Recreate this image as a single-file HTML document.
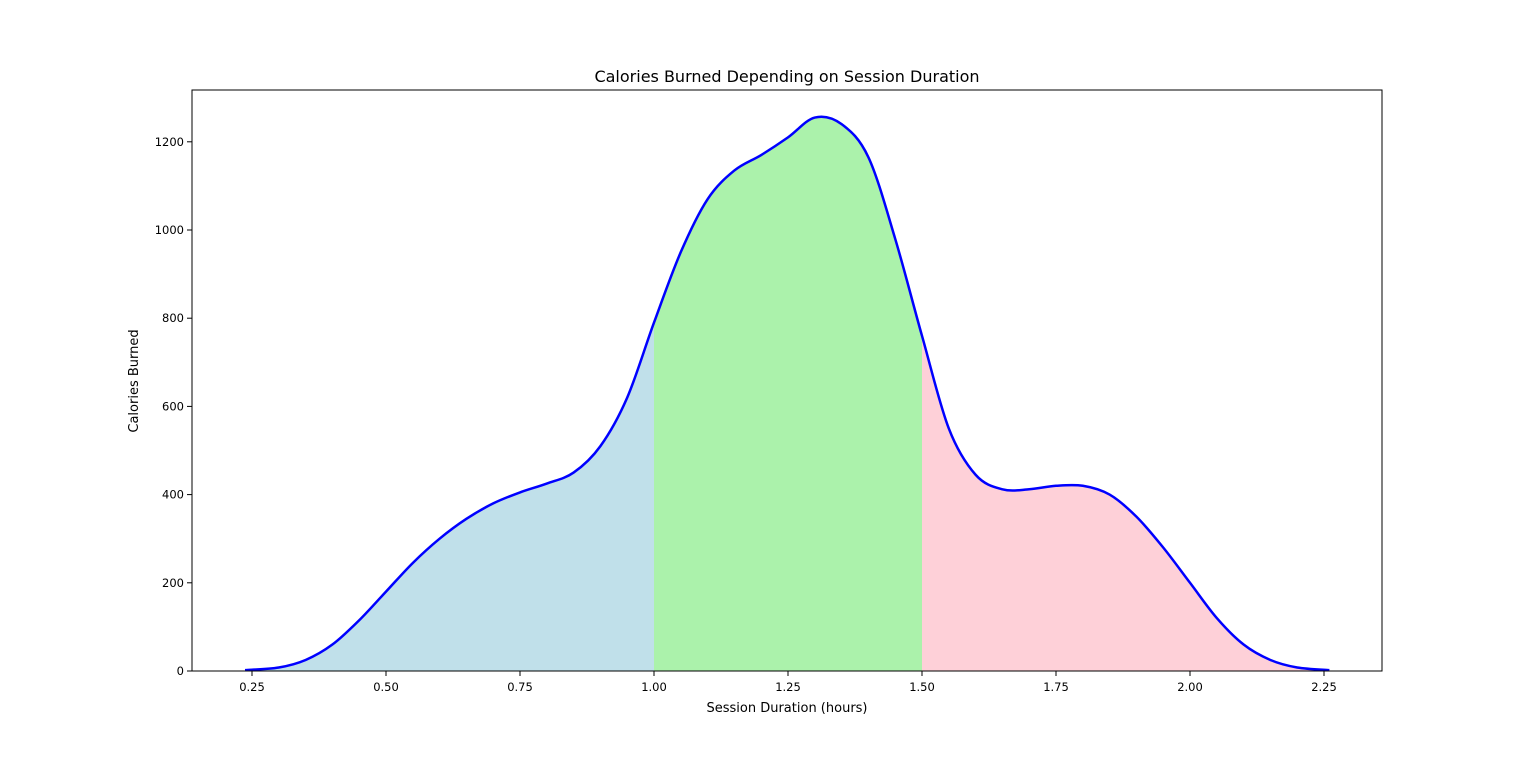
<!DOCTYPE html>
<html><head><meta charset="utf-8"><style>
body{margin:0;background:#fff;}
svg text{font-family:"DejaVu Sans","Liberation Sans",sans-serif;fill:#000;}
</style></head><body>
<svg id="chart" width="1536" height="754" xmlns="http://www.w3.org/2000/svg">
<defs>
<clipPath id="c1"><rect id="r1" y="80" height="600"/></clipPath>
<clipPath id="c2"><rect id="r2" y="80" height="600"/></clipPath>
<clipPath id="c3"><rect id="r3" y="80" height="600"/></clipPath>
</defs>
<g id="fills"></g>
<g id="axes"></g>
<text x="787" y="82" font-size="16" text-anchor="middle">Calories Burned Depending on Session Duration</text>
<text x="787" y="712" font-size="13" text-anchor="middle">Session Duration (hours)</text>
<text x="138" y="381" font-size="13" text-anchor="middle" transform="rotate(-90 138 381)">Calories Burned</text>
</svg>
<script>
const xs=[0.237,0.30,0.35,0.40,0.45,0.50,0.55,0.60,0.65,0.70,0.75,0.80,0.85,0.90,0.95,1.00,1.05,1.10,1.15,1.20,1.25,1.30,1.35,1.40,1.45,1.50,1.55,1.60,1.65,1.70,1.75,1.80,1.85,1.90,1.95,2.00,2.05,2.10,2.15,2.20,2.26];
const ys=[2,8,25,60,115,180,245,300,345,380,405,425,450,510,620,790,950,1070,1135,1170,1210,1255,1240,1165,980,760,550,445,412,412,420,420,400,350,280,200,120,60,25,8,2];
const xTicks=[0.25,0.5,0.75,1.0,1.25,1.5,1.75,2.0,2.25];
const yTicks=[0,200,400,600,800,1000,1200];
const splits=[1.0,1.5];
const ns="http://www.w3.org/2000/svg";
const L=192,R=1382,T=90,B=671;
const X=v=>252+(v-0.25)*536;
const Y=v=>671-v*0.441;
function el(t,a,p){const e=document.createElementNS(ns,t);for(const k in a)e.setAttribute(k,a[k]);p.appendChild(e);return e;}
const P=xs.map((x,i)=>[X(x),Y(ys[i])]);
let d="M"+P[0][0]+","+P[0][1];
for(let i=0;i<P.length-1;i++){const p0=P[i-1]||P[i],p1=P[i],p2=P[i+1],p3=P[i+2]||P[i+1];
d+=` C${p1[0]+(p2[0]-p0[0])/6},${p1[1]+(p2[1]-p0[1])/6} ${p2[0]-(p3[0]-p1[0])/6},${p2[1]-(p3[1]-p1[1])/6} ${p2[0]},${p2[1]}`;}
const fillD=d+` L${P[P.length-1][0]},${Y(0)} L${P[0][0]},${Y(0)} Z`;
const fills=document.getElementById('fills');
const bounds=[X(xs[0]),X(splits[0]),X(splits[1]),X(xs[xs.length-1])];
const cols=["#c0e0ea","#abf2ab","#fed0d8"],names=["fill-short","fill-medium","fill-long"];
for(let i=0;i<3;i++){const r=document.getElementById('r'+(i+1));r.setAttribute('x',bounds[i]);r.setAttribute('width',bounds[i+1]-bounds[i]);
const f=el('path',{d:fillD,fill:cols[i],'clip-path':`url(#c${i+1})`},fills);

}
const line=el('path',{d:d,fill:'none',stroke:'#0000ff','stroke-width':2.5},fills);


const ax=document.getElementById('axes');
const fr=el('rect',{x:L,y:T,width:R-L,height:B-T,fill:'none',stroke:'#000','stroke-width':1},ax);


xTicks.forEach(v=>{el('line',{x1:X(v),x2:X(v),y1:B,y2:B+5,stroke:'#000'},ax);
const t=el('text',{x:X(v),y:B+20,'font-size':11.5,'text-anchor':'middle'},ax);t.textContent=v.toFixed(2);

});
yTicks.forEach(v=>{el('line',{x1:L-5,x2:L,y1:Y(v),y2:Y(v),stroke:'#000'},ax);
const t=el('text',{x:L-8,y:Y(v)+4,'font-size':11.5,'text-anchor':'end'},ax);t.textContent=v;

});
</script>
</body></html>
